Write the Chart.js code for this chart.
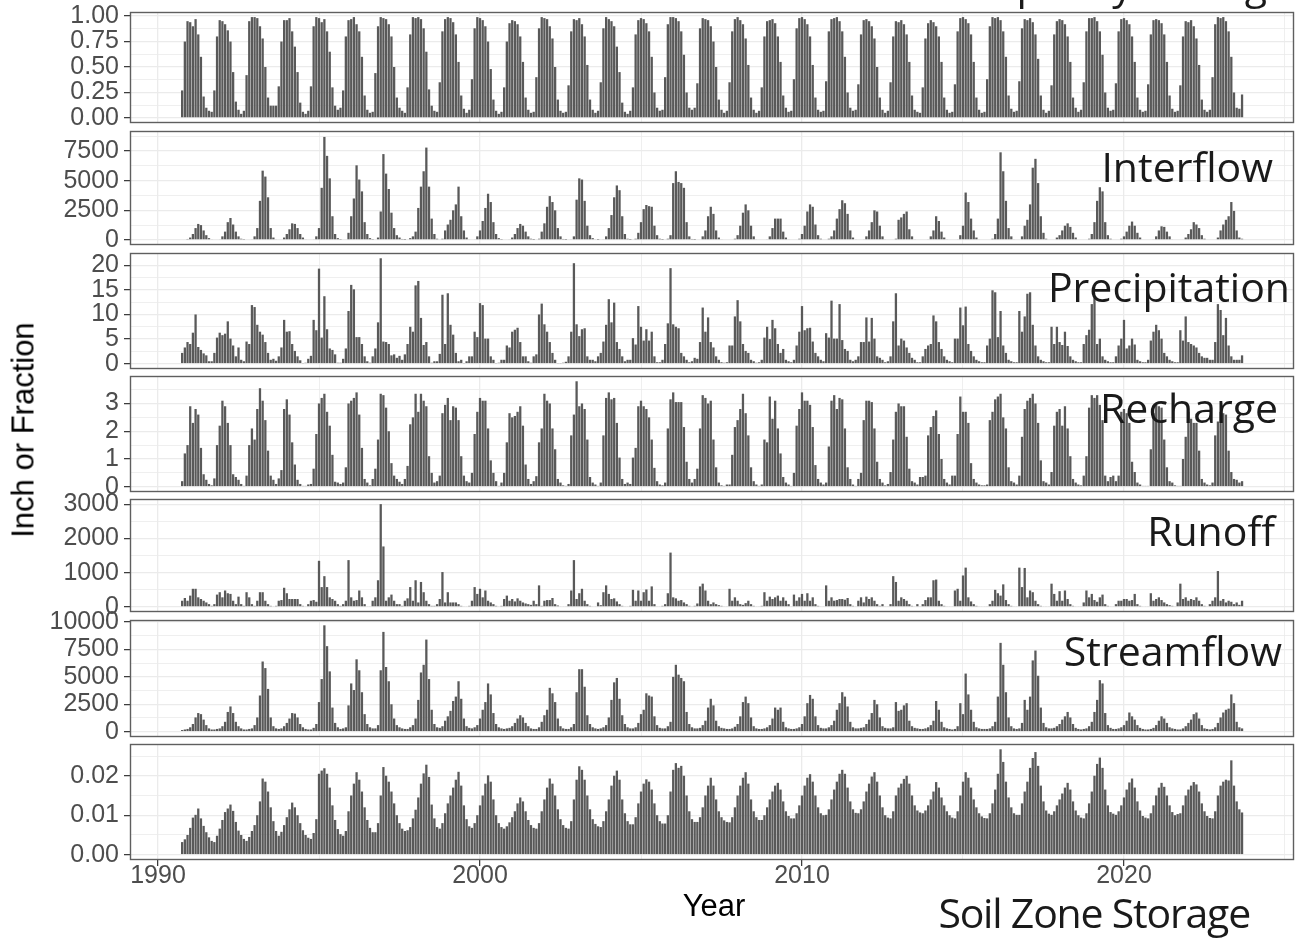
<!DOCTYPE html>
<html>
<head>
<meta charset="utf-8">
<title>Monthly water budget</title>
<script src="https://cdn.jsdelivr.net/npm/chart.js@4.4.1/dist/chart.umd.min.js"></script>
<style>
  html, body { margin: 0; padding: 0; background: #fff; }
  body { position: relative; width: 1296px; height: 939px; overflow: hidden; font-family: "Liberation Sans", Arial, sans-serif; }
  canvas { position: absolute; left: 0; }
  .strip { position: absolute; font-family: "Open Sans", sans-serif; font-size: 41px; line-height: 41px; color: #1a1a1a; white-space: nowrap; }
  .title { position: absolute; font-size: 31px; line-height: 31px; color: #000; white-space: nowrap; }
</style>
</head>
<body>
<script>
// one row per water year (Oct..Sep), WY1991 to WY2023
const firstWaterYear = 1991;

const fraction = [
  [.27,.75,.95,.94,.90,.97,.82,.60,.21,.10,.07,.06],
  [.27,.80,.96,.95,.92,.86,.75,.45,.16,.08,.04,.07],
  [.42,.95,.99,.99,.98,.90,.78,.50,.20,.12,.12,.12],
  [.31,.75,.96,.96,.98,.85,.70,.45,.15,.06,.04,.07],
  [.31,.90,.99,.98,.94,.97,.85,.65,.30,.12,.08,.10],
  [.27,.80,.96,.97,.99,.92,.85,.60,.22,.08,.05,.06],
  [.44,.90,.99,.98,.97,.92,.80,.50,.20,.10,.07,.05],
  [.30,.82,.99,.98,.99,.97,.88,.65,.28,.12,.07,.06],
  [.35,.85,.97,.99,.98,.94,.82,.55,.22,.09,.05,.08],
  [.38,.88,.99,.98,.96,.90,.75,.48,.18,.07,.04,.06],
  [.30,.75,.93,.96,.95,.92,.80,.55,.20,.08,.05,.06],
  [.40,.88,.99,.98,.97,.90,.78,.50,.18,.07,.05,.06],
  [.32,.85,.97,.96,.98,.92,.80,.52,.18,.08,.05,.07],
  [.35,.88,.99,.97,.95,.90,.70,.45,.15,.06,.04,.07],
  [.30,.82,.96,.98,.97,.93,.85,.60,.25,.10,.07,.08],
  [.40,.92,.99,.99,.98,.95,.85,.62,.25,.10,.08,.10],
  [.34,.88,.98,.97,.96,.90,.75,.50,.18,.08,.05,.07],
  [.35,.85,.97,.99,.96,.92,.78,.52,.20,.08,.05,.07],
  [.30,.80,.95,.96,.97,.93,.80,.55,.22,.10,.06,.07],
  [.38,.88,.98,.99,.97,.92,.80,.52,.20,.08,.06,.07],
  [.36,.85,.97,.98,.99,.95,.85,.60,.25,.10,.07,.08],
  [.33,.82,.96,.97,.95,.90,.78,.50,.20,.08,.05,.07],
  [.35,.80,.95,.94,.96,.92,.82,.55,.22,.08,.06,.05],
  [.30,.78,.93,.96,.94,.90,.80,.55,.20,.08,.05,.06],
  [.33,.85,.98,.99,.97,.93,.82,.55,.20,.08,.05,.06],
  [.38,.90,.99,.98,.99,.96,.85,.60,.22,.09,.06,.07],
  [.36,.88,.97,.96,.98,.94,.82,.58,.22,.08,.05,.07],
  [.32,.82,.95,.97,.96,.92,.80,.55,.20,.10,.06,.08],
  [.35,.85,.98,.98,.99,.95,.85,.62,.25,.10,.07,.08],
  [.34,.85,.97,.98,.96,.92,.80,.55,.20,.08,.06,.07],
  [.33,.82,.96,.97,.96,.93,.82,.55,.22,.09,.06,.07],
  [.32,.80,.95,.94,.96,.90,.78,.52,.18,.08,.06,.08],
  [.40,.92,.99,.98,.99,.95,.85,.60,.25,.10,.09,.23]
];

const interflow = [
  [0,0,80,200,500,1000,1350,1250,800,400,150,50],
  [0,0,50,300,700,1500,1850,1300,700,300,100,30],
  [0,0,50,300,1000,3300,5850,5350,3600,1000,200,50],
  [0,0,200,500,900,1400,1350,1000,500,200,50,0],
  [0,50,300,1000,4400,8700,7100,5200,2000,500,150,30],
  [0,0,600,2000,3500,6300,5100,4100,1500,500,150,30],
  [0,200,2400,7250,5600,4300,2300,1000,400,200,80,20],
  [0,150,300,700,2700,4500,5800,7800,4500,1800,500,100],
  [0,100,800,1300,1700,2500,3000,4500,2000,800,200,50],
  [0,50,300,800,1600,2700,3900,3200,1500,500,150,30],
  [0,0,50,200,500,1000,1350,1200,700,300,100,20],
  [0,100,700,1400,2800,3700,3200,2500,1000,300,80,20],
  [0,50,300,3400,5200,5100,3300,1200,400,150,50,20],
  [0,50,300,1000,2100,3600,4600,4200,2000,500,100,20],
  [0,100,600,1500,2600,2950,2850,2800,1200,400,100,20],
  [0,100,400,4800,5800,4900,4800,4400,1500,300,80,20],
  [0,0,300,800,2000,2800,2200,800,200,50,0,0],
  [0,0,100,400,1200,2300,3000,2500,1200,300,50,0],
  [0,0,50,300,1000,1800,1800,1800,700,200,50,0],
  [0,0,100,500,1200,2400,3000,2800,1300,400,100,0],
  [0,100,300,800,1800,2600,3350,3100,2200,800,200,50],
  [0,0,50,300,800,1500,2500,2400,1200,300,50,0],
  [0,0,100,1700,1900,2200,2400,900,300,50,0,0],
  [0,0,50,300,800,2000,1600,700,200,50,0,0],
  [0,50,400,1200,4000,3200,1800,800,200,50,0,0],
  [0,0,100,500,1800,7400,5800,3300,1000,300,50,0],
  [0,300,1200,1700,3000,6100,6850,4800,2000,600,100,0],
  [0,0,200,400,800,1200,1400,1100,600,200,0,0],
  [0,0,100,500,1500,3300,4450,4100,1500,400,100,0],
  [0,0,100,300,700,1200,1550,1200,600,200,0,0],
  [0,0,50,300,800,1150,1100,700,300,50,0,0],
  [0,0,200,500,900,1500,1300,1000,400,100,0,0],
  [0,0,200,800,1300,1700,2000,3200,2450,800,200,100]
];

const precipitation = [
  [2.2,3.3,4.4,4.0,6.3,10.0,3.4,2.8,2.1,1.7,0.5,0.5],
  [2.2,5.3,6.3,5.8,6.1,8.6,5.1,3.7,1.5,3.3,0.8,0.5],
  [4.5,4.0,11.9,11.5,7.9,6.5,5.9,4.4,2.2,0.8,1.0,0.6],
  [1.5,3.3,8.9,6.5,6.6,4.0,2.6,1.5,0.7,0.1,0.2,1.0],
  [1.6,8.9,6.8,19.3,5.3,13.7,7.0,3.1,2.8,1.9,0.2,0.2],
  [1.0,3.1,10.7,16.0,15.1,5.4,5.4,4.0,1.5,0.5,0.2,1.5],
  [3.1,8.4,21.4,4.5,4.4,4.0,1.7,1.9,1.2,1.6,0.8,1.9],
  [4.0,7.5,6.5,15.9,16.8,9.3,3.8,4.4,1.5,0.2,0.5,0.5],
  [2.0,14.0,4.0,14.3,7.9,5.9,2.2,0.5,0.8,0.1,0.5,1.5],
  [1.5,6.5,5.4,12.3,11.9,5.1,5.1,1.5,0.8,0.1,0.2,0.8],
  [0.8,3.7,3.3,6.5,6.9,7.3,4.4,1.5,1.5,0.5,0.2,1.5],
  [1.9,10.0,12.2,8.0,6.5,4.4,2.2,0.8,0.1,0.1,0.2,0.4],
  [1.5,6.5,20.4,8.0,5.6,7.0,7.2,1.5,0.8,0.8,0.5,1.5],
  [2.2,4.5,7.9,13.1,8.4,12.4,4.4,3.0,1.5,0.5,0.8,0.8],
  [5.2,3.9,11.7,7.5,4.7,7.0,4.7,6.5,1.5,0.3,0.3,0.8],
  [4.0,8.2,19.4,8.0,7.5,7.2,2.2,1.5,0.8,0.3,0.5,1.2],
  [1.0,4.4,11.4,6.5,9.4,4.4,3.3,1.5,0.8,0.3,0.2,0.3],
  [3.7,3.7,9.6,12.9,8.6,4.0,2.6,2.2,0.8,0.5,0.2,0.3],
  [0.8,5.3,7.5,5.0,8.9,7.2,4.0,2.2,3.0,0.8,0.5,0.3],
  [0.8,3.7,6.5,11.7,6.8,7.2,7.3,4.5,2.2,1.5,0.8,0.5],
  [6.2,5.3,12.8,5.1,5.1,12.1,4.8,3.0,2.6,0.8,0.5,0.8],
  [1.5,4.4,4.4,9.4,4.5,9.3,5.1,1.5,1.2,0.8,0.3,0.5],
  [1.5,8.6,14.3,3.7,5.1,4.7,3.3,2.2,1.2,0.8,0.3,0.3],
  [1.5,3.0,3.7,4.0,9.8,8.6,4.4,3.0,1.5,0.8,0.5,0.3],
  [5.1,5.1,11.4,7.8,11.6,4.0,2.6,1.5,0.8,0.5,0.3,0.3],
  [3.7,5.1,14.9,14.5,5.4,10.7,3.7,2.2,0.8,0.5,0.3,0.3],
  [10.7,6.5,9.6,14.2,14.5,7.9,3.7,1.5,0.8,0.5,0.3,0.3],
  [7.5,4.0,7.5,4.4,3.8,6.5,3.6,1.5,0.8,0.5,0.3,0.3],
  [4.0,5.8,6.9,12.1,13.5,4.0,5.1,1.5,0.8,0.5,0.3,0.3],
  [1.5,3.7,5.1,8.9,3.1,3.7,5.1,3.9,0.8,0.5,0.3,0.3],
  [0.8,4.7,6.5,7.9,6.8,5.1,2.2,1.5,0.8,0.5,0.3,0.3],
  [6.8,4.7,9.6,4.4,4.0,3.7,3.3,2.2,1.5,1.2,1.2,0.8],
  [0.8,4.4,12.1,10.9,5.8,9.3,3.7,1.5,0.8,0.8,0.8,1.7]
];

const recharge = [
  [0.2,1.2,1.5,2.9,2.3,2.8,2.6,1.4,0.45,0.25,0.1,0.05],
  [0.3,1.5,2.2,3.1,2.9,2.3,1.5,0.45,0.35,0.25,0.1,0.03],
  [0.4,1.5,2.1,1.7,2.8,3.55,3.1,2.4,1.3,0.4,0.25,0.1],
  [0.3,0.6,2.8,3.15,2.6,1.6,0.8,0.25,0.1,0.03,0.03,0.08],
  [0.1,0.65,1.9,3.0,3.2,3.35,2.7,2.2,1.15,0.18,0.15,0.1],
  [0.15,0.7,3.0,3.1,3.2,3.4,2.6,1.4,0.28,0.15,0.05,0.28],
  [0.65,1.7,3.35,3.3,2.85,2.0,0.85,0.4,0.28,0.18,0.1,0.28],
  [0.75,2.25,2.5,3.35,2.7,3.35,3.1,2.9,1.1,0.5,0.15,0.2],
  [0.4,2.65,2.95,3.2,2.4,2.9,2.85,2.4,1.1,0.4,0.2,0.15],
  [0.5,1.9,2.7,3.2,3.1,3.1,2.1,0.95,0.5,0.2,0.03,0.15],
  [0.5,1.6,2.65,2.5,2.55,2.7,2.9,2.2,0.8,0.28,0.1,0.2],
  [0.38,1.6,2.1,3.35,3.1,3.0,2.1,1.35,0.28,0.15,0.05,0.03],
  [0.1,1.85,2.6,3.8,2.9,3.0,2.8,1.7,0.35,0.15,0.08,0.03],
  [0.15,1.85,3.2,3.4,3.15,3.2,2.3,1.05,0.28,0.1,0.15,0.1],
  [1.05,1.4,2.9,3.1,2.9,2.8,2.5,1.7,0.68,0.2,0.08,0.05],
  [0.15,2.1,3.15,3.4,3.05,3.05,3.05,2.15,0.9,0.28,0.15,0.28],
  [0.65,2.1,3.3,3.2,3.0,3.1,1.7,0.7,0.15,0.05,0.03,0.08],
  [0.08,1.15,2.15,2.4,2.8,3.35,2.65,1.85,0.7,0.2,0.08,0.03],
  [0.08,1.7,1.6,3.25,2.45,3.1,2.1,1.2,0.35,0.15,0.08,0.03],
  [0.5,2.2,2.8,3.4,3.1,3.1,2.95,2.15,0.78,0.28,0.15,0.08],
  [0.15,1.45,3.1,3.3,2.8,3.2,3.15,2.1,0.7,0.28,0.08,0.03],
  [0.28,0.5,2.4,3.1,3.1,3.05,2.1,0.9,0.28,0.15,0.05,0.1],
  [0.53,1.7,2.7,3.0,2.9,2.9,1.8,0.65,0.2,0.15,0.08,0.35],
  [0.35,0.4,1.85,2.15,2.55,2.75,1.9,1.0,0.28,0.15,0.08,0.4],
  [0.4,1.9,3.25,2.7,2.7,2.3,0.85,0.28,0.15,0.08,0.05,0.05],
  [0.08,2.4,2.7,3.15,3.25,3.35,2.5,2.1,0.7,0.2,0.15,0.08],
  [0.4,1.8,2.8,3.1,3.2,3.35,3.0,2.3,0.95,0.2,0.15,0.08],
  [0.53,2.2,2.7,2.8,2.2,2.9,2.1,1.1,0.28,0.15,0.08,0.05],
  [0.4,1.1,2.85,3.3,3.2,3.3,2.95,2.4,0.4,0.2,0.35,0.4],
  [0.2,0.4,2.7,2.8,2.65,2.3,0.9,0.53,0.15,0.08,0.03,0.03],
  [0.03,1.35,2.65,2.95,2.9,2.85,1.7,0.7,0.2,0.15,0.05,0.03],
  [0.03,1.0,1.8,2.7,2.45,2.3,2.3,1.3,0.28,0.15,0.08,0.05],
  [0.15,1.85,2.35,2.7,2.65,2.6,1.3,0.53,0.28,0.25,0.15,0.2]
];

const runoff = [
  [180,260,180,330,530,530,280,230,180,130,80,30],
  [80,360,430,280,480,400,380,180,80,300,80,30],
  [430,280,80,30,180,430,430,180,80,30,20,30],
  [180,200,560,400,230,230,230,230,80,30,20,80],
  [180,200,150,1350,580,900,580,280,230,180,80,30],
  [80,180,1370,280,180,200,480,280,80,20,20,180],
  [280,780,3010,1770,180,280,360,180,80,80,30,180],
  [250,580,180,780,130,730,430,180,80,30,30,80],
  [230,1020,130,430,130,130,130,80,30,20,20,30],
  [180,580,380,530,280,480,180,130,80,30,20,30],
  [230,330,180,230,160,250,180,130,100,80,60,180],
  [80,630,30,180,200,200,260,80,40,20,20,20],
  [80,480,1370,230,400,530,180,80,30,20,20,130],
  [50,430,630,380,230,250,160,80,30,20,20,30],
  [500,180,480,180,430,510,180,600,80,20,20,30],
  [80,400,1590,280,250,180,200,130,80,30,20,30],
  [100,600,680,480,180,80,130,80,50,30,20,20],
  [530,180,280,180,80,60,110,180,80,30,20,20],
  [30,430,180,300,230,280,330,180,280,180,80,20],
  [360,180,280,380,180,400,180,280,80,30,20,20],
  [630,180,280,180,200,230,230,210,260,80,30,20],
  [180,280,130,300,230,280,180,80,30,80,20,20],
  [80,900,730,180,280,230,180,80,30,20,80,20],
  [80,200,280,280,780,800,180,80,30,20,20,20],
  [480,530,180,920,1150,280,160,80,30,20,20,20],
  [20,80,180,500,400,330,660,200,80,30,20,20],
  [1150,580,1140,280,480,430,180,80,30,20,20,20],
  [680,380,180,460,180,480,230,80,30,20,20,20],
  [130,480,280,380,200,150,280,360,80,30,20,20],
  [80,180,180,230,230,180,200,380,80,30,20,20],
  [20,400,180,230,280,200,130,80,50,30,20,130],
  [680,230,280,180,230,200,280,180,80,30,20,80],
  [180,280,1050,180,230,130,180,150,80,130,60,180]
];

const streamflow = [
  [150,200,250,400,700,1300,1700,1600,1100,600,300,200],
  [200,250,300,500,900,1800,2300,1700,900,500,300,200],
  [200,250,300,600,1300,3300,6400,5800,3900,1300,500,300],
  [250,300,500,800,1200,1700,1650,1300,700,400,250,200],
  [200,350,700,2700,4800,9700,7800,5500,2200,800,400,250],
  [300,400,2400,4400,3800,6600,5600,3600,1600,700,400,300],
  [300,600,5600,9100,5900,4600,2500,1200,600,400,300,250],
  [250,400,600,1200,2900,5400,6100,8400,4800,2000,700,400],
  [350,500,1000,1400,1900,2800,3200,4600,3000,1200,500,350],
  [300,400,600,1200,2000,2700,4400,3400,1700,700,400,300],
  [250,300,350,500,800,1200,1500,1300,800,500,300,250],
  [250,400,900,1500,2000,4000,3500,2700,1200,500,300,250],
  [250,400,700,3600,5700,5700,4100,1500,700,400,300,250],
  [300,400,600,1300,2900,4500,4900,3000,1500,700,400,300],
  [300,400,800,1600,2000,3500,3300,3200,1400,600,350,300],
  [300,500,900,5000,6100,5200,4900,4600,1800,700,400,300],
  [300,350,600,1000,2200,3000,2400,1000,500,350,300,250],
  [250,300,450,700,1400,2700,3200,2600,1300,500,300,250],
  [250,300,400,600,1200,2200,2000,2200,900,400,300,250],
  [250,300,400,700,1400,2600,3350,3000,1400,600,350,300],
  [300,400,600,1000,2000,2600,3600,3200,2300,900,400,300],
  [300,350,400,700,1100,1700,2900,2500,1300,500,350,300],
  [300,400,2700,1900,2000,2400,2600,1000,500,350,300,250],
  [250,300,400,600,1000,2800,2000,900,400,300,250,200],
  [250,500,2600,1600,5300,3400,2000,900,400,300,250,250],
  [250,300,500,900,3200,8100,6100,3600,1300,500,300,250],
  [300,800,2900,2000,3200,6500,7400,5100,2200,800,400,300],
  [300,350,500,700,1100,1400,1800,1300,700,350,250,200],
  [250,300,500,900,1800,2900,4700,4400,1700,600,350,250],
  [250,300,400,600,1000,1750,1400,1100,600,350,250,200],
  [200,250,350,600,1000,1400,1200,800,400,300,250,200],
  [200,300,500,800,1100,1600,1750,1200,600,300,250,200],
  [250,400,800,1300,1750,2000,2100,3400,2600,900,400,300]
];

const soilStorage = [
  [0.0032,0.0039,0.0050,0.0068,0.0094,0.0101,0.0117,0.0092,0.0073,0.0057,0.0044,0.0035],
  [0.0032,0.0048,0.0066,0.0088,0.0108,0.0117,0.0127,0.0111,0.0083,0.0061,0.0050,0.0040],
  [0.0035,0.0045,0.0060,0.0075,0.0100,0.0135,0.0193,0.0185,0.0160,0.0120,0.0085,0.0060],
  [0.0048,0.0058,0.0075,0.0095,0.0115,0.0132,0.0120,0.0100,0.0080,0.0062,0.0050,0.0043],
  [0.0040,0.0055,0.0090,0.0205,0.0213,0.0219,0.0205,0.0170,0.0125,0.0088,0.0065,0.0052],
  [0.0048,0.0060,0.0110,0.0150,0.0180,0.0209,0.0190,0.0160,0.0120,0.0088,0.0068,0.0057],
  [0.0057,0.0080,0.0150,0.0222,0.0200,0.0185,0.0160,0.0130,0.0100,0.0080,0.0066,0.0060],
  [0.0062,0.0070,0.0092,0.0114,0.0145,0.0180,0.0206,0.0228,0.0197,0.0127,0.0092,0.0070],
  [0.0066,0.0080,0.0105,0.0130,0.0150,0.0170,0.0190,0.0210,0.0175,0.0125,0.0090,0.0072],
  [0.0068,0.0080,0.0100,0.0125,0.0150,0.0180,0.0201,0.0185,0.0140,0.0100,0.0080,0.0070],
  [0.0066,0.0072,0.0082,0.0095,0.0110,0.0130,0.0145,0.0135,0.0110,0.0088,0.0075,0.0068],
  [0.0066,0.0080,0.0110,0.0140,0.0170,0.0193,0.0180,0.0150,0.0115,0.0090,0.0075,0.0068],
  [0.0066,0.0085,0.0140,0.0190,0.0224,0.0215,0.0190,0.0150,0.0115,0.0090,0.0078,0.0072],
  [0.0070,0.0085,0.0110,0.0140,0.0175,0.0200,0.0213,0.0190,0.0140,0.0105,0.0085,0.0077],
  [0.0077,0.0095,0.0130,0.0160,0.0180,0.0191,0.0185,0.0165,0.0130,0.0100,0.0085,0.0079],
  [0.0079,0.0100,0.0160,0.0215,0.0232,0.0220,0.0225,0.0200,0.0150,0.0110,0.0090,0.0083],
  [0.0083,0.0095,0.0120,0.0150,0.0175,0.0195,0.0175,0.0140,0.0110,0.0095,0.0087,0.0083],
  [0.0082,0.0095,0.0120,0.0150,0.0175,0.0195,0.0209,0.0180,0.0140,0.0110,0.0095,0.0088],
  [0.0088,0.0100,0.0120,0.0140,0.0160,0.0175,0.0182,0.0165,0.0135,0.0110,0.0098,0.0092],
  [0.0092,0.0105,0.0125,0.0150,0.0175,0.0195,0.0204,0.0185,0.0150,0.0120,0.0105,0.0100],
  [0.0101,0.0115,0.0140,0.0165,0.0185,0.0205,0.0215,0.0205,0.0170,0.0135,0.0115,0.0106],
  [0.0105,0.0115,0.0135,0.0160,0.0180,0.0198,0.0209,0.0185,0.0150,0.0120,0.0100,0.0094],
  [0.0092,0.0110,0.0150,0.0170,0.0180,0.0192,0.0200,0.0180,0.0150,0.0125,0.0112,0.0107],
  [0.0105,0.0112,0.0125,0.0140,0.0160,0.0184,0.0170,0.0145,0.0125,0.0110,0.0100,0.0094],
  [0.0092,0.0110,0.0150,0.0185,0.0209,0.0195,0.0170,0.0140,0.0120,0.0105,0.0097,0.0093],
  [0.0092,0.0105,0.0130,0.0165,0.0205,0.0267,0.0235,0.0185,0.0145,0.0120,0.0105,0.0101],
  [0.0101,0.0130,0.0160,0.0185,0.0220,0.0245,0.0260,0.0225,0.0175,0.0135,0.0112,0.0104],
  [0.0101,0.0110,0.0125,0.0140,0.0155,0.0170,0.0182,0.0165,0.0135,0.0112,0.0100,0.0094],
  [0.0092,0.0105,0.0130,0.0160,0.0200,0.0230,0.0246,0.0220,0.0165,0.0125,0.0108,0.0104],
  [0.0101,0.0110,0.0125,0.0145,0.0165,0.0183,0.0193,0.0170,0.0135,0.0112,0.0098,0.0094],
  [0.0092,0.0105,0.0125,0.0150,0.0170,0.0182,0.0172,0.0150,0.0125,0.0108,0.0100,0.0103],
  [0.0105,0.0125,0.0150,0.0165,0.0175,0.0184,0.0178,0.0160,0.0130,0.0110,0.0098,0.0093],
  [0.0092,0.0110,0.0150,0.0175,0.0185,0.0190,0.0188,0.0239,0.0175,0.0135,0.0115,0.0107]
];

// tick values, and the in-between minor grid lines
const fractionTicks = [0, 0.25, 0.5, 0.75, 1], fractionMinor = [0.125, 0.375, 0.625, 0.875];
const flowTicks = [0, 2500, 5000, 7500], flowMinor = [1250, 3750, 6250, 8750];
const precipTicks = [0, 5, 10, 15, 20], precipMinor = [2.5, 7.5, 12.5, 17.5];
const rechargeTicks = [0, 1, 2, 3], rechargeMinor = [0.5, 1.5, 2.5, 3.5];
const runoffTicks = [0, 1000, 2000, 3000], runoffMinor = [500, 1500, 2500];
const streamTicks = [0, 2500, 5000, 7500, 10000], streamMinor = [1250, 3750, 6250, 8750];
const soilTicks = [0, 0.01, 0.02], soilMinor = [0.005, 0.015, 0.025];
const yearTicks = [1990, 2000, 2010, 2020], yearMinor = [1995, 2005, 2015, 2025];

const stripLabels = ['Capillary Storage', 'Interflow', 'Precipitation', 'Recharge', 'Runoff', 'Streamflow', 'Soil Zone Storage'];

const panels = [
  { values: fraction, ticks: fractionTicks, minor: fractionMinor, digits: 2, min: -0.05, max: 1.04, top: 12, bottom: 123 },
  { values: interflow, ticks: flowTicks, minor: flowMinor, digits: 0, min: -430, max: 9200, top: 131, bottom: 245 },
  { values: precipitation, ticks: precipTicks, minor: precipMinor, digits: 0, min: -1.07, max: 22.47, top: 253, bottom: 369 },
  { values: recharge, ticks: rechargeTicks, minor: rechargeMinor, digits: 0, min: -0.19, max: 3.99, top: 376, bottom: 492 },
  { values: runoff, ticks: runoffTicks, minor: runoffMinor, digits: 0, min: -150, max: 3160, top: 499, bottom: 612 },
  { values: streamflow, ticks: streamTicks, minor: streamMinor, digits: 0, min: -485, max: 10185, top: 620, bottom: 737 },
  { values: soilStorage, ticks: soilTicks, minor: soilMinor, digits: 2, min: -0.00134, max: 0.02804, top: 744, bottom: 860 }
];

const stripPos = [
  { right: 6, baseline: -1, spacing: 0 },
  { right: 23, baseline: 182, spacing: 0 },
  { right: 6, baseline: 302, spacing: 0 },
  { right: 18, baseline: 423, spacing: 0 },
  { right: 21, baseline: 546, spacing: 0 },
  { right: 14, baseline: 666, spacing: 0 },
  { right: 46, baseline: 928, spacing: -1.2 }
];

const X_MIN = 1989.13, X_MAX = 2025.28;
const PAD = 24;
const tickFont = { family: 'Liberation Sans', size: 25 };

const panelBox = {
  id: 'panelBox',
  afterDraw(chart) {
    const a = chart.chartArea, ctx = chart.ctx;
    ctx.save();
    ctx.strokeStyle = '#5f5f5f';
    ctx.lineWidth = 1.4;
    ctx.strokeRect(a.left + 0.5, a.top + 0.5, a.right - a.left - 1, a.bottom - a.top - 1);
    ctx.restore();
  }
};

function toPoints(rows) {
  const pts = [];
  rows.forEach((row, y) => {
    row.forEach((v, m) => {
      // Oct of water year N sits at N-1 + 9/12
      pts.push({ x: firstWaterYear - 1 + (9 + m) / 12 + y, y: v });
    });
  });
  return pts;
}

function drawPanel(p, i) {
  const last = i === panels.length - 1;
  const axisH = last ? 939 - p.bottom : 0;
  const canvas = document.createElement('canvas');
  canvas.width = 1296;
  canvas.height = (p.bottom - p.top) + PAD + (last ? axisH : PAD);
  canvas.style.top = (p.top - PAD) + 'px';
  document.body.appendChild(canvas);

  const isMajorY = v => p.ticks.some(t => Math.abs(t - v) < 1e-9);
  const isMajorX = v => yearTicks.includes(v);

  new Chart(canvas, {
    type: 'bar',
    data: {
      datasets: [{
        data: toPoints(p.values),
        backgroundColor: '#595959',
        borderWidth: 0,
        barPercentage: 0.85,
        categoryPercentage: 1
      }]
    },
    options: {
      responsive: false,
      animation: false,
      events: [],
      layout: { padding: { top: PAD, bottom: last ? 0 : PAD, left: 0, right: 2 } },
      plugins: { legend: { display: false }, tooltip: { enabled: false } },
      scales: {
        x: {
          type: 'linear',
          min: X_MIN,
          max: X_MAX,
          offset: false,
          afterBuildTicks: s => { s.ticks = yearTicks.concat(yearMinor).sort().map(v => ({ value: v })); },
          afterFit: s => { s.height = axisH; },
          border: { display: false },
          grid: {
            offset: false,
            color: '#ebebeb',
            lineWidth: c => isMajorX(c.tick.value) ? 1.3 : 0.8,
            drawTicks: last,
            tickLength: 6,
            tickWidth: 1.2,
            tickColor: c => isMajorX(c.tick.value) ? '#333333' : 'rgba(0,0,0,0)'
          },
          ticks: {
            display: last,
            autoSkip: false,
            maxRotation: 0,
            padding: -5,
            color: '#4d4d4d',
            font: tickFont,
            callback: v => isMajorX(v) ? String(v) : ''
          }
        },
        y: {
          min: p.min,
          max: p.max,
          afterBuildTicks: s => { s.ticks = p.ticks.concat(p.minor).sort((a, b) => a - b).map(v => ({ value: v })); },
          afterFit: s => { s.width = 130; },
          border: { display: false },
          grid: {
            color: '#ebebeb',
            lineWidth: c => isMajorY(c.tick.value) ? 1.3 : 0.8,
            tickLength: 6,
            tickWidth: 1.2,
            tickColor: c => isMajorY(c.tick.value) ? '#333333' : 'rgba(0,0,0,0)'
          },
          ticks: {
            autoSkip: false,
            padding: 5,
            color: '#4d4d4d',
            font: tickFont,
            callback: v => isMajorY(v) ? v.toFixed(p.digits) : ''
          }
        }
      }
    },
    plugins: [panelBox]
  });
}

panels.forEach(drawPanel);

// facet labels sit on top of the bars
stripLabels.forEach((text, i) => {
  const d = document.createElement('div');
  d.className = 'strip';
  d.textContent = text;
  d.style.right = stripPos[i].right + 'px';
  d.style.top = (stripPos[i].baseline - 36.4) + 'px';
  d.style.letterSpacing = stripPos[i].spacing + 'px';
  document.body.appendChild(d);
});

const xTitle = document.createElement('div');
xTitle.className = 'title';
xTitle.textContent = 'Year';
xTitle.style.left = '714px';
xTitle.style.top = '890px';
xTitle.style.transform = 'translateX(-50%)';
document.body.appendChild(xTitle);

const yTitle = document.createElement('div');
yTitle.className = 'title';
yTitle.textContent = 'Inch or Fraction';
yTitle.style.left = '23px';
yTitle.style.top = '430px';
yTitle.style.transform = 'translate(-50%, -50%) rotate(-90deg)';
document.body.appendChild(yTitle);
</script>
</body>
</html>
